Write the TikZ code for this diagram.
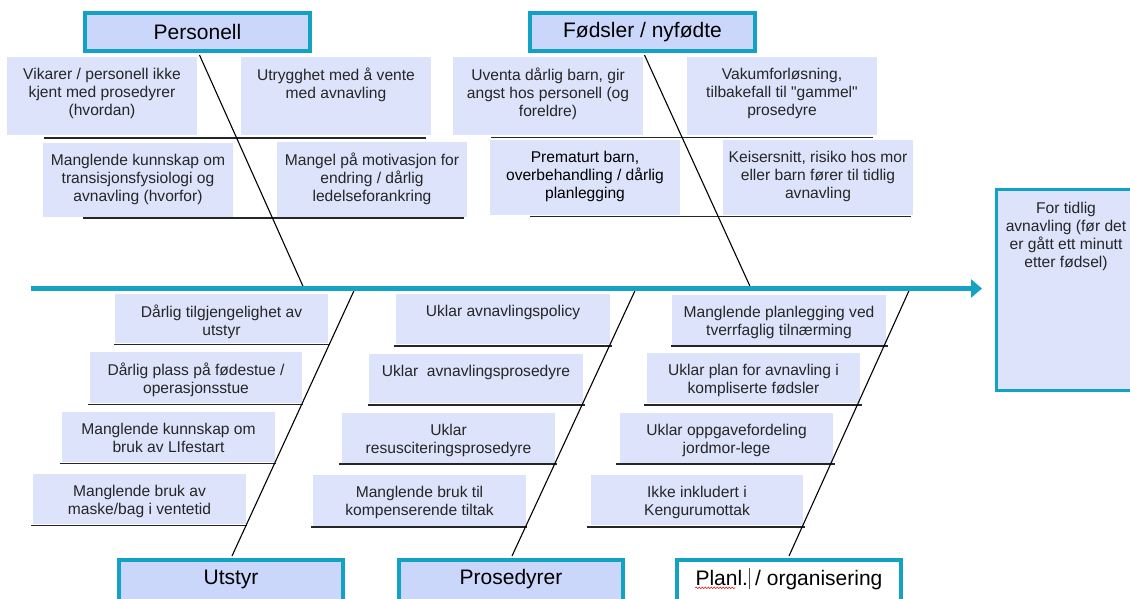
\documentclass[tikz,border=0pt]{standalone}
\usepackage{fontspec}
\setmainfont{Liberation Sans}
\usetikzlibrary{fit,arrows.meta,decorations.pathmorphing}
\definecolor{hdrfill}{HTML}{CAD6FA}
\definecolor{hdrborder}{HTML}{12A2C4}
\definecolor{cfill}{HTML}{DCE3FB}
\definecolor{spinecol}{HTML}{16A2C4}
\definecolor{ctxt}{HTML}{262626}
\tikzset{
  cbox/.style={fill=cfill, draw=none, inner sep=0pt},
  ctext/.style={inner sep=0pt, align=center, text=ctxt, font=\fontsize{15.6}{18}\selectfont},
  uline/.style={draw=black!85, line width=1.7pt},
  bone/.style={draw=black, line width=1.1pt},
  hdr/.style={draw=hdrborder, line width=4pt, fill=hdrfill, inner sep=0pt},
  htext/.style={inner sep=0pt, font=\fontsize{21}{25}\selectfont, text=black},
}
\newcommand\causebox[6]{%
  \node[cbox, fit={(#2,#3)(#4,#5)}] (#1) {};
  \node[ctext, anchor=north] (#1t) at ([yshift=-10.5pt]#1.north) {\rule{0pt}{12pt}#6};
}
\begin{document}
\begin{tikzpicture}[x=1pt,y=-1pt]
\useasboundingbox (0,0) rectangle (1130,598);
\clip (0,0) rectangle (1130,598);
\fill[white] (0,0) rectangle (1130,598);

% ---- Personell causes
\causebox{p1}{7}{57}{197}{135}{Vikarer / personell ikke\\kjent med prosedyrer\\(hvordan)}
\causebox{p2}{241}{57}{431}{135}{Utrygghet med å vente\\med avnavling}
\causebox{p3}{43}{143}{233}{217}{Manglende kunnskap om\\transisjonsfysiologi og\\avnavling (hvorfor)}
\causebox{p4}{277}{142}{467}{217}{Mangel på motivasjon for\\endring / dårlig\\ledelseforankring}
\draw[uline] (44,138) -- (426,138);
\draw[uline] (83,218) -- (464,218);

% ---- Fødsler causes
\causebox{f1}{453}{57}{643}{135}{Uventa dårlig barn, gir\\angst hos personell (og\\foreldre)}
\causebox{f2}{687}{57}{877}{135}{Vakumforløsning,\\tilbakefall til \textquotedbl gammel\textquotedbl\\prosedyre}
\causebox{f3}{490}{140}{680}{215}{\color{black}Prematurt barn,\\\color{black}overbehandling / dårlig\\\color{black}planlegging}
\causebox{f4}{723}{140}{913}{215}{Keisersnitt, risiko hos mor\\eller barn fører til tidlig\\avnavling}
\draw[uline] (491,137.5) -- (873,137.5);
\draw[uline] (530,216.5) -- (911,216.5);

% ---- Utstyr causes
\causebox{u1}{115}{294}{328}{343}{Dårlig tilgjengelighet av\\utstyr}
\causebox{u2}{90}{352}{302}{403}{Dårlig plass på fødestue /\\operasjonsstue}
\causebox{u3}{62}{412}{275}{462}{Manglende kunnskap om\\bruk av LIfestart}
\causebox{u4}{33}{474}{246}{524}{Manglende bruk av\\maske/bag i ventetid}
\draw[uline] (114,344.5) -- (330,344.5);
\draw[uline] (88,404.5) -- (303,404.5);
\draw[uline] (60,463.5) -- (276,463.5);
\draw[uline] (31,525.5) -- (247,525.5);

% ---- Prosedyrer causes
\causebox{r1}{396}{294}{610}{344}{Uklar avnavlingspolicy}
\causebox{r2}{369}{354}{583}{403}{Uklar\ \ avnavlingsprosedyre}
\causebox{r3}{342}{413}{555}{463}{Uklar\\resusciteringsprosedyre}
\causebox{r4}{313}{475}{526}{526}{Manglende bruk til\\kompenserende tiltak}
\draw[uline] (394,346) -- (612,346);
\draw[uline] (368,405) -- (585,405);
\draw[uline] (339,464) -- (557,464);
\draw[uline] (311,527) -- (527,527);

% ---- Planl. causes
\causebox{o1}{672}{295}{886}{345}{Manglende planlegging ved\\tverrfaglig tilnærming}
\causebox{o2}{647}{353}{860}{403}{Uklar plan for avnavling i\\kompliserte fødsler}
\causebox{o3}{620}{413}{833}{463}{Uklar oppgavefordeling\\jordmor-lege}
\causebox{o4}{591}{475}{803}{525}{Ikke inkludert i\\Kengurumottak}
\draw[uline] (671,346) -- (888,346);
\draw[uline] (644,405) -- (862,405);
\draw[uline] (616,464) -- (835,464);
\draw[uline] (587,527) -- (805,527);

% ---- bottom headers
\node[hdr, fit={(119,560)(343,602)}] (utst) {};
\node[htext] (utstt) at ([yshift=2pt]utst.center) {Utstyr};
\node[hdr, fit={(399,560)(623,602)}] (pros) {};
\node[htext] (prost) at ([yshift=2pt]pros.center) {Prosedyrer};
\node[hdr, fill=white, fit={(677,560)(901,602)}] (plan) {};
\node[htext] (plant) at ([yshift=2pt]plan.center) {Planl.\hspace{0.6pt}\textcolor{black!70}{\rule[-4pt]{0.7pt}{21pt}} / organisering};
\draw[red!85!black, line width=0.5pt, decorate, decoration={snake,amplitude=0.8pt,segment length=3pt}] ([yshift=-2.5pt]plant.base west) -- ++(40,0);

% ---- effect box
\node[hdr, line width=3pt, fill=cfill, fit={(996.5,189.5)(1138,390.5)}] (eff) {};
\node[ctext, anchor=north] (efft) at (1066,201.5) {\rule{0pt}{12pt}For tidlig\\avnavling (før det\\er gått ett minutt\\etter fødsel)};

% ---- spine coordinates
\coordinate (sp0) at (31,288.5);
\coordinate (s1) at (304,288.5);
\coordinate (s2) at (751,288.5);
\coordinate (s3) at (355,288.5);
\coordinate (s4) at (636,288.5);
\coordinate (s5) at (910,288.5);

% ---- top headers
\node[hdr, fit={(85,13)(310,51)}] (pers) {};
\node[htext] (perst) at (pers.center) {Personell};
\node[hdr, fit={(530,13)(755,51)}] (fods) {};
\node[htext] (fodst) at (fods.center) {Fødsler / nyfødte};

% ---- bones
\draw[bone] ([xshift=2pt,yshift=-2pt]pers.south) -- (s1);
\draw[bone] ([xshift=2pt,yshift=-2pt]fods.south) -- (s2);
\draw[bone] ([xshift=1pt,yshift=2pt]utst.north) -- (s3);
\draw[bone] ([xshift=1pt,yshift=2pt]pros.north) -- (s4);
\draw[bone] ([yshift=2pt]plan.north) -- (s5);

% ---- spine
\draw[draw=spinecol, line width=4.5pt, -{Triangle[length=11pt,width=18pt]}] (sp0) -- ([xshift=-13pt]eff.west |- sp0);
\end{tikzpicture}
\end{document}
